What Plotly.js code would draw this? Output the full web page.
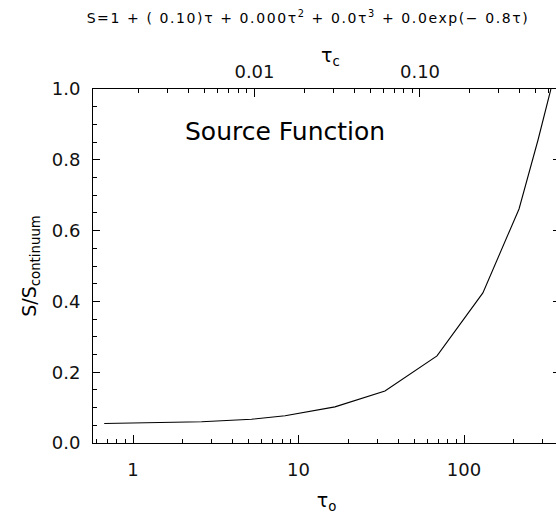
<!DOCTYPE html>
<html><head><meta charset="utf-8">
<script src="https://cdn.plot.ly/plotly-3.0.1.min.js"></script>
<style>html,body{margin:0;padding:0;overflow:hidden;background:#fff;width:556px;height:514px}#chart{width:562px;height:514px}
.gtitle{letter-spacing:1.6px}</style>
</head><body><div id="chart"></div>
<script>
// data
const tauO   = [0.67, 1.3, 2.6, 5.2, 8.3, 16.6, 33.3, 68.7, 130, 215, 280, 335];
const sRatio = [0.055, 0.057, 0.060, 0.067, 0.077, 0.102, 0.147, 0.246, 0.424, 0.661, 0.856, 1.0];
const tauCPerTauO = 0.001845;   // tau_c = tau_o * ratio (top axis)

const xTickVals = [1, 10, 100];
const xTickText = ['1', '10', '100'];
const xMinorVals = [0.6,0.7,0.8,0.9, 2,3,4,5,6,7,8,9, 20,30,40,50,60,70,80,90, 200,300];
const topTickVals = [0.01, 0.1];
const topTickText = ['0.01', '0.10'];
const topMinorVals = [0.002,0.003,0.004,0.005,0.006,0.007,0.008,0.009, 0.02,0.03,0.04,0.05,0.06,0.07,0.08,0.09, 0.2,0.3,0.4,0.5,0.6];
const yTickVals = [0, 0.2, 0.4, 0.6, 0.8, 1.0];
const yTickText = ['0.0', '0.2', '0.4', '0.6', '0.8', '1.0'];
const yMinorVals = [0.05,0.1,0.15,0.25,0.3,0.35,0.45,0.5,0.55,0.65,0.7,0.75,0.85,0.9,0.95];

const titleText = 'S=1 + ( 0.10)τ + 0.000τ<sup>2</sup> + 0.0τ<sup>3</sup> + 0.0exp(− 0.8τ)';
const annoText = 'Source Function';
const topAxisTitle = 'τ<sub>c</sub>';

const FONT = '"DejaVu Sans", Lato, sans-serif';

const traces = [
  {x: tauO, y: sRatio, type: 'scatter', mode: 'lines',
   line: {color: '#000', width: 1.1}, hoverinfo: 'skip', showlegend: false},
  {x: tauO.map(t => t * tauCPerTauO), y: sRatio, type: 'scatter', mode: 'lines',
   xaxis: 'x2', yaxis: 'y2', line: {color: 'rgba(0,0,0,0)', width: 0},
   hoverinfo: 'skip', showlegend: false}
];

const xr = [-0.2417, 2.580];
const lr = Math.log10(tauCPerTauO);

const common = {showgrid: false, zeroline: false, showline: true, linecolor: '#000',
  linewidth: 1, ticks: 'inside', tickcolor: '#000', automargin: false,
  tickfont: {family: FONT, size: 18, color: '#111'}};

const layout = {
  width: 562, height: 514,
  margin: {l: 93, r: 2, t: 89, b: 71},
  paper_bgcolor: '#fff', plot_bgcolor: '#fff',
  font: {family: FONT, color: '#000'},
  title: {text: titleText, font: {family: FONT, size: 14, color: '#000'},
          x: 308/562, xanchor: 'center', y: 1 - 18/514, yanchor: 'middle'},
  xaxis: Object.assign({}, common, {
    type: 'log', range: xr, tickmode: 'array', tickvals: xTickVals, ticktext: xTickText,
    ticklen: 8, ticklabelstandoff: 10,
    minor: {tickmode: 'array', tickvals: xMinorVals, ticks: 'inside', ticklen: 4, tickcolor: '#000', showgrid: false},
    title: {text: 'τ<sub>o</sub>', font: {family: FONT, size: 19, color: '#000'}, standoff: 15}
  }),
  xaxis2: Object.assign({}, common, {
    type: 'log', range: [xr[0] + lr, xr[1] + lr], overlaying: 'x', side: 'top', anchor: 'y',
    tickmode: 'array', tickvals: topTickVals, ticktext: topTickText,
    ticklen: 8, ticklabelstandoff: 3,
    minor: {tickmode: 'array', tickvals: topMinorVals, ticks: 'inside', ticklen: 4, tickcolor: '#000', showgrid: false}
  }),
  yaxis: Object.assign({}, common, {
    range: [0, 1.0], tickmode: 'array', tickvals: yTickVals, ticktext: yTickText,
    ticklen: 7, ticklabelstandoff: 8,
    minor: {tickmode: 'array', tickvals: yMinorVals, ticks: 'inside', ticklen: 4, tickcolor: '#000', showgrid: false},
    title: {text: 'S/S<sub>continuum</sub>', font: {family: FONT, size: 19, color: '#000'}, standoff: 10}
  }),
  yaxis2: Object.assign({}, common, {
    range: [0, 1.0], overlaying: 'y', side: 'right', anchor: 'x',
    tickmode: 'array', tickvals: yTickVals, showticklabels: false, ticklen: 7
  }),
  annotations: [{
    text: annoText, xref: 'paper', yref: 'paper', x: (285-93)/467, y: (443-131)/354,
    xanchor: 'center', yanchor: 'middle', showarrow: false,
    font: {family: FONT, size: 25, color: '#000'}
  }, {
    text: topAxisTitle, xref: 'paper', yref: 'paper', x: (330-93)/467, y: (443-56)/354,
    xanchor: 'center', yanchor: 'middle', showarrow: false,
    font: {family: FONT, size: 19, color: '#000'}
  }]
};

Plotly.newPlot('chart', traces, layout, {displayModeBar: false, staticPlot: true});
</script></body></html>
